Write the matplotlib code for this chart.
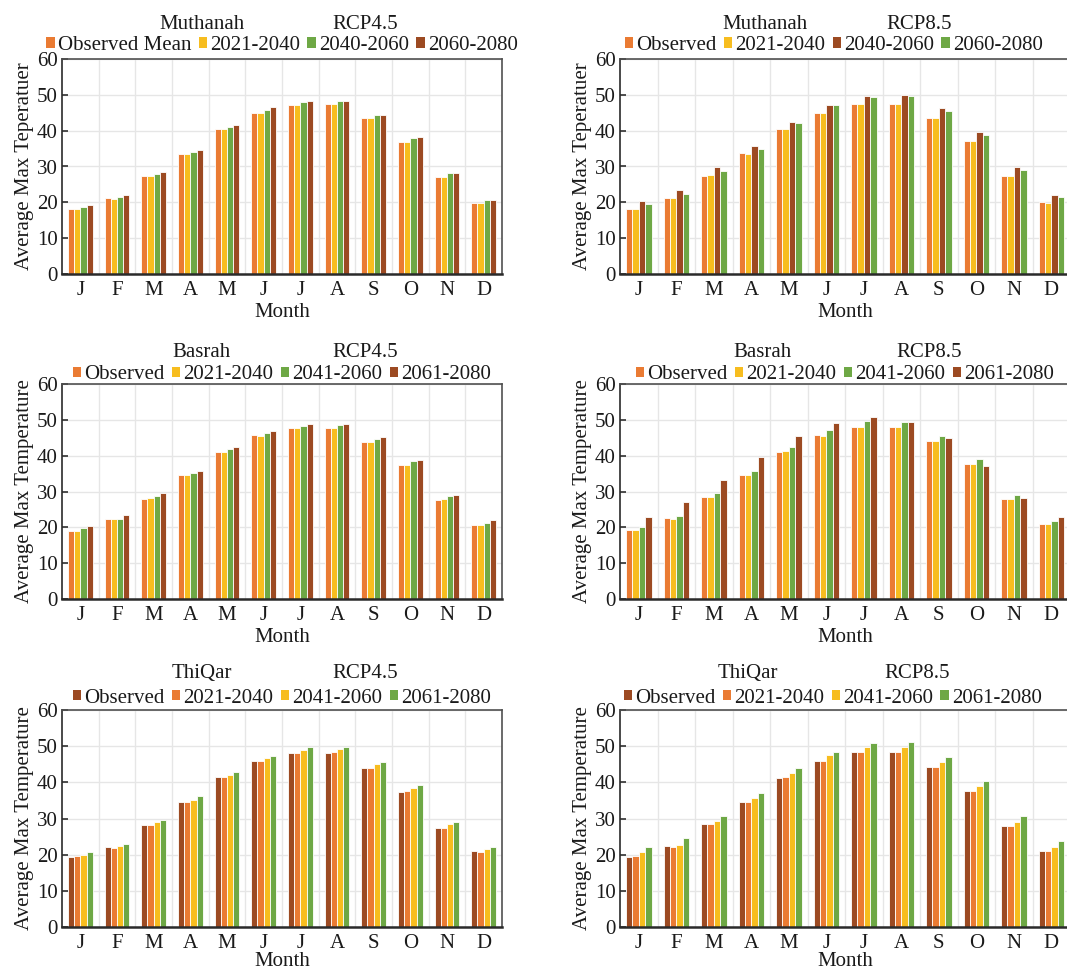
import numpy as np
import matplotlib.pyplot as plt
from matplotlib.patches import Patch

plt.rcParams['font.family'] = ['Liberation Serif', 'DejaVu Serif']

months = ['J', 'F', 'M', 'A', 'M', 'J', 'J', 'A', 'S', 'O', 'N', 'D']

ORANGE = '#EA7B33'
YELLOW = '#F7BD1F'
GREEN = '#6EA845'
BROWN = '#9C4A22'

# Muthanah RCP4.5
mu45_labels = ['Observed Mean', '2021-2040', '2040-2060', '2060-2080']
mu45_obs = [18.1, 21.2, 27.3, 33.6, 40.5, 45.0, 47.3, 47.4, 43.5, 36.8, 27.1, 19.9]
mu45_p1 = [18.2, 21.0, 27.4, 33.5, 40.5, 45.0, 47.2, 47.5, 43.5, 36.8, 27.1, 19.8]
mu45_p2 = [18.8, 21.6, 27.9, 34.1, 41.1, 45.8, 48.0, 48.3, 44.5, 38.0, 28.2, 20.6]
mu45_p3 = [19.2, 22.0, 28.5, 34.7, 41.6, 46.5, 48.4, 48.2, 44.5, 38.1, 28.2, 20.7]

# Muthanah RCP8.5
mu85_labels = ['Observed', '2021-2040', '2040-2060', '2060-2080']
mu85_obs = [18.2, 21.3, 27.4, 33.7, 40.5, 45.0, 47.5, 47.5, 43.6, 37.1, 27.3, 20.0]
mu85_p1 = [18.2, 21.2, 27.6, 33.6, 40.4, 45.0, 47.5, 47.5, 43.6, 37.0, 27.3, 19.9]
mu85_p2 = [20.5, 23.4, 29.8, 35.7, 42.5, 47.3, 49.8, 50.0, 46.2, 39.6, 29.8, 22.0]
mu85_p3 = [19.6, 22.4, 28.8, 35.0, 42.1, 47.1, 49.4, 49.7, 45.5, 38.8, 28.9, 21.5]

# Basrah RCP4.5
ba45_labels = ['Observed', '2021-2040', '2041-2060', '2061-2080']
ba45_obs = [19.1, 22.3, 28.0, 34.5, 41.1, 45.8, 47.6, 47.7, 43.7, 37.3, 27.5, 20.6]
ba45_p1 = [19.1, 22.2, 28.3, 34.5, 41.1, 45.5, 47.6, 47.8, 43.7, 37.5, 27.8, 20.6]
ba45_p2 = [19.8, 22.4, 28.8, 35.2, 41.9, 46.3, 48.4, 48.5, 44.7, 38.4, 28.7, 21.3]
ba45_p3 = [20.3, 23.4, 29.6, 35.8, 42.5, 47.0, 48.8, 48.7, 45.1, 38.9, 29.1, 22.0]

# Basrah RCP8.5
ba85_labels = ['Observed', '2021-2040', '2041-2060', '2061-2080']
ba85_obs = [19.3, 22.5, 28.4, 34.7, 41.1, 45.9, 48.0, 48.1, 44.1, 37.6, 27.8, 20.8]
ba85_p1 = [19.2, 22.3, 28.5, 34.6, 41.2, 45.6, 48.0, 48.1, 44.1, 37.8, 28.0, 20.8]
ba85_p2 = [20.2, 23.2, 29.5, 35.6, 42.5, 47.3, 49.6, 49.4, 45.4, 39.0, 29.1, 21.9]
ba85_p3 = [22.9, 27.1, 33.2, 39.5, 45.4, 49.1, 50.7, 49.5, 44.9, 37.2, 28.3, 22.9]

# ThiQar RCP4.5
tq45_labels = ['Observed', '2021-2040', '2041-2060', '2061-2080']
tq45_obs = [19.3, 22.1, 28.2, 34.6, 41.4, 45.9, 48.1, 48.1, 44.1, 37.3, 27.5, 20.9]
tq45_p1 = [19.5, 21.8, 28.3, 34.6, 41.5, 45.9, 48.0, 48.4, 44.0, 37.5, 27.5, 20.8]
tq45_p2 = [20.0, 22.4, 28.9, 35.2, 42.1, 46.6, 48.9, 49.2, 45.0, 38.5, 28.4, 21.7]
tq45_p3 = [20.7, 23.0, 29.5, 36.1, 42.8, 47.3, 49.7, 49.8, 45.6, 39.2, 29.0, 22.1]

# ThiQar RCP8.5
tq85_labels = ['Observed', '2021-2040', '2041-2060', '2061-2080']
tq85_obs = [19.4, 22.3, 28.4, 34.7, 41.2, 46.0, 48.4, 48.4, 44.2, 37.6, 27.9, 21.1]
tq85_p1 = [19.5, 22.0, 28.4, 34.7, 41.4, 45.9, 48.4, 48.5, 44.2, 37.7, 27.9, 21.0]
tq85_p2 = [20.6, 22.8, 29.2, 35.7, 42.6, 47.5, 49.8, 49.8, 45.7, 38.9, 28.9, 22.1]
tq85_p3 = [22.2, 24.6, 30.8, 37.1, 43.9, 48.5, 50.9, 51.2, 47.1, 40.5, 30.6, 23.7]

W, H = 1067, 971
fig = plt.figure(figsize=(W / 100, H / 100), dpi=100)

TXT = '#1a1a1a'
GRID = '#e6e6e6'


def px_axes(x0, x1, y0, y1):
    return fig.add_axes([x0 / W, 1 - y1 / H, (x1 - x0) / W, (y1 - y0) / H])


def panel(ax, site, rcp, labels, series, colors, ylabel, tx, ty=1.16,
          ly=1.062, lx=0.5, xpad=2):
    x = np.arange(len(months))
    bw = 0.17
    for i, (vals, c) in enumerate(zip(series, colors)):
        ax.bar(x + (i - 1.5) * bw, vals, bw, color=c, edgecolor='white',
               linewidth=0.6, zorder=2)
    # category borders and horizontal grid
    for b in np.arange(0.5, len(months) - 0.5, 1):
        ax.axvline(b, color=GRID, lw=1.0, zorder=0)
    ax.set_xlim(-0.5, len(months) - 0.5)
    ax.set_ylim(0, 60)
    ax.set_yticks(range(0, 61, 10))
    ax.set_xticks(x)
    ax.set_xticklabels(months)
    ax.grid(True, axis='y', color=GRID, lw=1.0, zorder=0)
    ax.tick_params(axis='x', length=0, labelsize=15, colors=TXT, pad=5)
    ax.tick_params(axis='y', direction='in', length=4, width=1.2,
                   color='#303030', labelsize=15, labelcolor=TXT, pad=3)
    for s in ax.spines.values():
        s.set_color('#505050')
        s.set_linewidth(1.2)
        s.set_zorder(4)
    ax.spines['bottom'].set_color('#2a2a2a')
    ax.spines['bottom'].set_linewidth(1.8)
    ax.spines['left'].set_color('#2a2a2a')
    ax.set_xlabel('Month', fontsize=15, color=TXT, labelpad=xpad)
    ax.set_ylabel(ylabel, fontsize=15, color=TXT, labelpad=2)
    ax.text(tx[0], ty, site, transform=ax.transAxes, ha='center',
            va='center', fontsize=15, color=TXT)
    ax.text(tx[1], ty, rcp, transform=ax.transAxes, ha='center',
            va='center', fontsize=15, color=TXT)
    handles = [Patch(facecolor=c, edgecolor='none') for c in colors]
    ax.legend(handles, labels, loc='center', bbox_to_anchor=(lx, ly),
              ncol=4, frameon=False, fontsize=15, handlelength=0.4,
              handleheight=0.4, handletextpad=0.15, columnspacing=0.35,
              borderaxespad=0, borderpad=0, labelcolor=TXT)


rows = [(59, 274), (384, 599), (710, 927)]
lcol = (62, 502)
rcol = (620, 1070)

ax = px_axes(lcol[0], lcol[1], *rows[0])
panel(ax, 'Muthanah', 'RCP4.5', mu45_labels,
      [mu45_obs, mu45_p1, mu45_p2, mu45_p3], [ORANGE, YELLOW, GREEN, BROWN],
      'Average Max Teperatuer', (0.318, 0.69))

ax = px_axes(rcol[0], rcol[1], *rows[0])
panel(ax, 'Muthanah', 'RCP8.5', mu85_labels,
      [mu85_obs, mu85_p1, mu85_p2, mu85_p3], [ORANGE, YELLOW, BROWN, GREEN],
      'Average Max Teperatuer', (0.322, 0.664), lx=0.475)

ax = px_axes(lcol[0], lcol[1], *rows[1])
panel(ax, 'Basrah', 'RCP4.5', ba45_labels,
      [ba45_obs, ba45_p1, ba45_p2, ba45_p3], [ORANGE, YELLOW, GREEN, BROWN],
      'Average Max Temperature', (0.318, 0.69), ty=1.146, ly=1.043)

ax = px_axes(rcol[0], rcol[1], *rows[1])
panel(ax, 'Basrah', 'RCP8.5', ba85_labels,
      [ba85_obs, ba85_p1, ba85_p2, ba85_p3], [ORANGE, YELLOW, GREEN, BROWN],
      'Average Max Temperature', (0.316, 0.687), ty=1.146, ly=1.043)

ax = px_axes(lcol[0], lcol[1], *rows[2])
panel(ax, 'ThiQar', 'RCP4.5', tq45_labels,
      [tq45_obs, tq45_p1, tq45_p2, tq45_p3], [BROWN, ORANGE, YELLOW, GREEN],
      'Average Max Temperature', (0.318, 0.69), ty=1.167, ly=1.055, xpad=-1)

ax = px_axes(rcol[0], rcol[1], *rows[2])
panel(ax, 'ThiQar', 'RCP8.5', tq85_labels,
      [tq85_obs, tq85_p1, tq85_p2, tq85_p3], [BROWN, ORANGE, YELLOW, GREEN],
      'Average Max Temperature', (0.284, 0.66), ty=1.167, ly=1.055, lx=0.473,
      xpad=-1)

fig.savefig('out.png', dpi=100)
